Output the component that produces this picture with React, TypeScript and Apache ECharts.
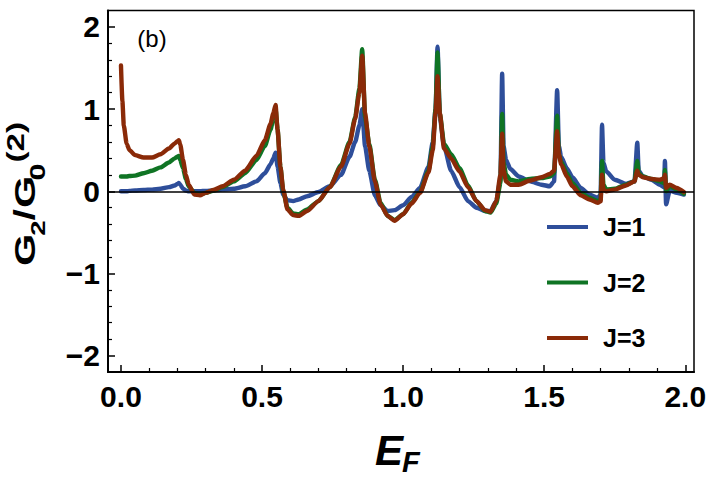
import React, { useEffect, useRef } from "react";
import * as echarts from "echarts";

const E = [
  0, 0.005, 0.01, 0.02, 0.03, 0.05, 0.08, 0.11, 0.14, 0.17,
  0.19, 0.2, 0.205, 0.21, 0.22, 0.23, 0.24, 0.26, 0.28, 0.3,
  0.33, 0.36, 0.4, 0.44, 0.48, 0.51, 0.53, 0.54, 0.548, 0.555,
  0.565, 0.575, 0.59, 0.61, 0.63, 0.66, 0.7, 0.74, 0.78, 0.81,
  0.83, 0.845, 0.855, 0.865, 0.88, 0.9, 0.92, 0.945, 0.97, 1.0,
  1.03, 1.06, 1.09, 1.105, 1.115, 1.122, 1.13, 1.145, 1.17, 1.2,
  1.23, 1.26, 1.29, 1.31, 1.33, 1.345, 1.351, 1.356, 1.365, 1.38,
  1.41, 1.45, 1.49, 1.52, 1.535, 1.546, 1.552, 1.56, 1.58, 1.6,
  1.63, 1.66, 1.69, 1.7, 1.705, 1.71, 1.72, 1.75, 1.79, 1.82,
  1.83, 1.835, 1.85, 1.88, 1.91, 1.925, 1.928, 1.932, 1.945, 1.97, 1.995,
];

const J1 = [
  0, 0, 0, 0, 0.005, 0.01, 0.015, 0.02, 0.03, 0.05,
  0.07, 0.09, 0.1, 0.08, 0.03, 0.01, 0, 0, 0, 0.005,
  0.01, 0.02, 0.03, 0.06, 0.12, 0.22, 0.33, 0.4, 0.47, 0.3,
  0.1, -0.04, -0.11, -0.12, -0.1, -0.06, -0.01, 0.06, 0.2, 0.42,
  0.6, 0.8, 1.0, 0.55, 0.25, -0.05, -0.17, -0.24, -0.23, -0.17,
  -0.07, 0.04, 0.3, 0.6, 1.0, 1.76, 0.9, 0.55, 0.25, 0.05,
  -0.12, -0.2, -0.24, -0.24, -0.12, 0.15, 1.43, 0.55, 0.38, 0.27,
  0.18, 0.12, 0.08, 0.06, 0.12, 1.23, 0.55, 0.42, 0.28, 0.17,
  0.04, -0.04, -0.08, -0.04, 0.81, 0.35, 0.24, 0.14, 0.09, 0.12,
  0.59, 0.25, 0.18, 0.14, 0.08, 0.05, 0.37, -0.16, 0.01, -0.02, -0.04,
];

const J2 = [
  0.18, 0.18, 0.18, 0.18, 0.185, 0.19, 0.22, 0.25, 0.29, 0.35,
  0.4, 0.42, 0.43, 0.38, 0.28, 0.15, 0.06, -0.02, -0.04, -0.02,
  0.01, 0.05, 0.12, 0.22, 0.38, 0.55, 0.75, 0.88, 1.0, 0.75,
  0.3, 0.0, -0.2, -0.27, -0.28, -0.22, -0.12, 0.05, 0.32, 0.6,
  0.9, 1.25, 1.73, 0.9, 0.58, 0.14, -0.14, -0.3, -0.35, -0.28,
  -0.14, -0.01, 0.25, 0.55, 1.0, 1.69, 0.95, 0.58, 0.45, 0.28,
  0.07, -0.12, -0.24, -0.26, -0.15, 0.1, 0.94, 0.35, 0.2, 0.14,
  0.12, 0.15, 0.16, 0.18, 0.22, 0.92, 0.45, 0.36, 0.22, 0.1,
  -0.02, -0.08, -0.12, -0.1, 0.37, 0.08, 0.02, 0.03, 0.08, 0.12,
  0.37, 0.22, 0.18, 0.15, 0.12, 0.1, 0.26, 0.0, 0.06, 0.02, -0.03,
];

const J3 = [
  1.53, 1.1, 0.8, 0.58, 0.5, 0.44, 0.41, 0.41, 0.45, 0.52,
  0.58, 0.61, 0.62, 0.57, 0.38, 0.2, 0.08, -0.04, -0.05, -0.02,
  0.02, 0.06, 0.14, 0.25, 0.43, 0.62, 0.82, 0.95, 1.05, 0.75,
  0.3, 0.02, -0.22, -0.29, -0.3, -0.24, -0.12, 0.05, 0.3, 0.58,
  0.88, 1.2, 1.65, 0.95, 0.55, 0.12, -0.16, -0.3, -0.36, -0.28,
  -0.15, -0.02, 0.23, 0.5, 0.95, 1.4, 0.95, 0.52, 0.4, 0.24,
  0.05, -0.12, -0.23, -0.25, -0.12, 0.2, 0.7, 0.25, 0.12, 0.08,
  0.08, 0.13, 0.17, 0.21, 0.25, 0.73, 0.45, 0.33, 0.18, 0.06,
  -0.05, -0.1, -0.14, -0.12, 0.2, 0.02, 0.0, 0.02, 0.07, 0.12,
  0.25, 0.2, 0.17, 0.15, 0.14, 0.16, 0.2, 0.04, 0.08, 0.04, -0.01,
];

const SERIES_NAMES = ["J=1", "J=2", "J=3"];
const X_MAJOR = [0, 0.5, 1, 1.5, 2];
const X_MINOR = [0.1, 0.2, 0.3, 0.4, 0.6, 0.7, 0.8, 0.9, 1.1, 1.2, 1.3, 1.4, 1.6, 1.7, 1.8, 1.9];
const Y_MAJOR = [-2, -1, 0, 1, 2];
const Y_MINOR = [-1.8, -1.6, -1.4, -1.2, -0.8, -0.6, -0.4, -0.2, 0.2, 0.4, 0.6, 0.8, 1.2, 1.4, 1.6, 1.8];

const COLORS = ["#2e4e9a", "#0f7424", "#8a2a08"];
const FF = '"Liberation Sans", Arial, sans-serif';

const X_MIN = -0.046;
const X_MAX = 2.031;
const Y_MIN = -2.2;
const Y_MAX = 2.2;

export default function App() {
  const ref = useRef<HTMLDivElement>(null);
  useEffect(() => {
    const chart = echarts.init(ref.current!, null, { renderer: "svg" });
    const ys = [J1, J2, J3];
    const series: any[] = ys.map((arr, k) => ({
      type: "line",
      name: SERIES_NAMES[k],
      data: E.map((e, i) => [e, arr[i]]),
      xAxisIndex: 0,
      yAxisIndex: 0,
      showSymbol: false,
      symbol: "none",
      smooth: 0.2,
      smoothMonotone: "x",
      color: COLORS[k],
      itemStyle: { color: COLORS[k] },
      lineStyle: { width: 4.4, color: COLORS[k], join: "round", cap: "round" },
      silent: true,
      z: 2 + k,
    }));
    series[2].markLine = {
      silent: true,
      symbol: ["none", "none"],
      label: { show: false },
      lineStyle: { color: "#000", width: 1.5, type: "solid" },
      data: [{ yAxis: 0 }],
      z: 10,
    };

    const baseX = {
      type: "value",
      min: X_MIN,
      max: X_MAX,
      gridIndex: 0,
      position: "bottom",
      splitLine: { show: false },
    };
    const baseY = {
      type: "value",
      min: Y_MIN,
      max: Y_MAX,
      gridIndex: 0,
      position: "left",
      splitLine: { show: false },
    };

    const labelText = (text: string, x: number, y: number, size: number) => ({
      type: "text",
      x,
      y,
      style: {
        text,
        fontFamily: FF,
        fontWeight: "bold",
        fontSize: size,
        fill: "#000",
        textAlign: "left",
        textVerticalAlign: "middle",
      },
    });

    const option: any = {
      animation: false,
      backgroundColor: "#fff",
      grid: {
        left: 108,
        right: 16,
        top: 10.5,
        bottom: 105,
        show: true,
        borderColor: "#000",
        borderWidth: 1.5,
      },
      legend: {
        orient: "vertical",
        left: 547,
        top: 213,
        padding: 0,
        itemWidth: 41,
        itemHeight: 4,
        itemGap: 27.5,
        icon: "rect",
        data: SERIES_NAMES,
        textStyle: {
          fontFamily: FF,
          fontWeight: "bold",
          fontSize: 25,
          color: "#000",
          lineHeight: 28,
          padding: [0, 0, 0, 10],
        },
      },
      xAxis: [
        {
          ...baseX,
          axisLine: { show: true, onZero: false, lineStyle: { color: "#000", width: 2 } },
          axisTick: {
            show: true,
            inside: true,
            length: 7,
            customValues: X_MAJOR,
            lineStyle: { color: "#000", width: 1.5 },
          },
          axisLabel: {
            show: true,
            customValues: X_MAJOR,
            formatter: (v: number) => v.toFixed(1),
            fontFamily: FF,
            fontWeight: "bold",
            fontSize: 30,
            color: "#000",
            margin: 9,
          },
        },
        {
          ...baseX,
          axisLine: { show: false, onZero: false },
          axisTick: {
            show: true,
            inside: true,
            length: 4,
            customValues: X_MINOR,
            lineStyle: { color: "#000", width: 1.2 },
          },
          axisLabel: { show: false },
        },
      ],
      yAxis: [
        {
          ...baseY,
          axisLine: { show: true, onZero: false, lineStyle: { color: "#000", width: 2 } },
          axisTick: {
            show: true,
            inside: true,
            length: 7,
            customValues: Y_MAJOR,
            lineStyle: { color: "#000", width: 1.5 },
          },
          axisLabel: {
            show: true,
            customValues: Y_MAJOR,
            formatter: (v: number) => String(v).replace("-", "\u2212"),
            fontFamily: FF,
            fontWeight: "bold",
            fontSize: 30,
            color: "#000",
            margin: 8,
          },
        },
        {
          ...baseY,
          axisLine: { show: false, onZero: false },
          axisTick: {
            show: true,
            inside: true,
            length: 4,
            customValues: Y_MINOR,
            lineStyle: { color: "#000", width: 1.2 },
          },
          axisLabel: { show: false },
        },
      ],
      graphic: [
        {
          type: "text",
          x: 152,
          y: 38,
          style: {
            text: "(b)",
            fontFamily: FF,
            fontSize: 24,
            fill: "#000",
            textAlign: "center",
            textVerticalAlign: "middle",
          },
        },
        {
          type: "text",
          x: 375,
          y: 450,
          style: {
            text: "E",
            fontFamily: FF,
            fontWeight: "bold",
            fontStyle: "italic",
            fontSize: 42,
            fill: "#000",
            textAlign: "left",
            textVerticalAlign: "middle",
          },
        },
        {
          type: "text",
          x: 402,
          y: 462,
          style: {
            text: "F",
            fontFamily: FF,
            fontWeight: "bold",
            fontStyle: "italic",
            fontSize: 29,
            fill: "#000",
            textAlign: "left",
            textVerticalAlign: "middle",
          },
        },
        {
          type: "group",
          x: 25,
          y: 266,
          rotation: Math.PI / 2,
          scaleX: 1.38,
          children: [
            labelText("G", 0, 0, 30),
            labelText("2", 22, 13, 20),
            labelText("/", 33, 0, 30),
            labelText("G", 42, 0, 30),
            labelText("0", 62, 13, 22),
            labelText("(2)", 75, -9, 24),
          ],
        },
      ],
      series,
    };
    chart.setOption(option);
    return () => chart.dispose();
  }, []);
  return (
    <div
      ref={ref}
      style={{ position: "fixed", left: 0, top: 0, width: 710, height: 477 }}
    />
  );
}
